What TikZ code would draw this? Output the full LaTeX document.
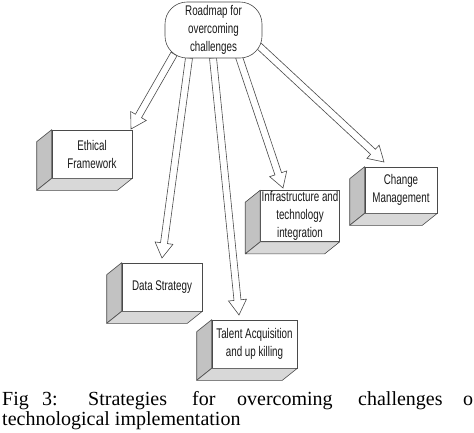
\documentclass[tikz,border=0pt]{standalone}
\usepackage{fontspec}
\setmainfont{Liberation Serif}
\newfontfamily\boxfont[FakeStretch=0.7]{Liberation Sans}
\usetikzlibrary{calc}
\definecolor{edge}{HTML}{4A4A4A}
\definecolor{sideface}{HTML}{C2C2C2}
\definecolor{botface}{HTML}{D8D8D8}
\tikzset{
  front/.style={draw=edge, line width=0.6pt, fill=white, align=center, inner sep=1pt,
    font=\boxfont\fontsize{14}{18}\selectfont, text=black!90},
  sideface/.style={draw=edge, line width=0.6pt, fill=sideface, line join=round},
  botface/.style={draw=edge, line width=0.6pt, fill=botface, line join=round},
  blockarrow/.style={draw=edge, line width=0.6pt, fill=white, line join=miter},
  capword/.style={font=\fontsize{20}{20}\selectfont, anchor=base west, inner sep=0pt}
}
\newcommand\boxthreed[1]{%
  \draw[sideface] (#1.north west) -- ++(-15,12) -- ($(#1.south west)+(-15,12)$) -- (#1.south west) -- cycle;
  \draw[botface] (#1.south west) -- ++(-15,12) -- ($(#1.south east)+(-15,12)$) -- (#1.south east) -- cycle;
}
\newcommand\blockarr[2]{%
  \coordinate (#1#2h) at ($(#2)!15pt!(#1)$);
  \draw[blockarrow] ($(#1)!3.5pt!90:(#2)$) -- ($(#1#2h)!3.5pt!90:(#2)$) -- ($(#1#2h)!9pt!90:(#2)$)
    -- (#2) -- ($(#1#2h)!9pt!-90:(#2)$) -- ($(#1#2h)!3.5pt!-90:(#2)$) -- ($(#1)!3.5pt!-90:(#2)$) -- cycle;
}
\begin{document}
\begin{tikzpicture}[x=1pt, y=-1pt]
\useasboundingbox (0,0) rectangle (474,432);
\clip (0,0) rectangle (474,432);
\fill[white] (0,0) rectangle (474,432);

% arrow end points
\coordinate (s1) at (174,54);  \coordinate (t1) at (131,129);
\coordinate (s2) at (189,58);  \coordinate (t2) at (162,258);
\coordinate (s3) at (213,58);  \coordinate (t3) at (239,315);
\coordinate (s4) at (239,57);  \coordinate (t4) at (283,188);
\coordinate (s5) at (258,45);  \coordinate (t5) at (384,162);

\blockarr{s1}{t1}
\blockarr{s2}{t2}
\blockarr{s3}{t3}
\blockarr{s4}{t4}
\blockarr{s5}{t5}

% top node
\node[front, rounded corners=22pt, minimum width=97pt, minimum height=56pt] (road) at (213.5,30)
  {Roadmap for\\overcoming\\challenges};

% boxes
\node[front, minimum width=80pt, minimum height=48pt] (ef) at (92,154) {Ethical\\Framework};
\boxthreed{ef}
\node[front, minimum width=80pt, minimum height=48pt] (ds) at (162,287) {Data Strategy};
\boxthreed{ds}
\node[front, minimum width=85pt, minimum height=48pt] (ta) at (254.5,344) {Talent Acquisition\\and up killing};
\boxthreed{ta}
\node[front, minimum width=78pt, minimum height=48pt] (it) at (300,216) {Infrastructure and\\technology\\integration};
\boxthreed{it}
\node[front, minimum width=72pt, minimum height=46pt] (cm) at (401,190) {Change\\Management};
\boxthreed{cm}

% caption
\node[capword] (c1) at (2,405) {Fig};
\node[capword] (c2) at (42,405) {3:};
\node[capword] (c3) at (88,405) {Strategies};
\node[capword] (c4) at (192,405) {for};
\node[capword] (c5) at (237,405) {overcoming};
\node[capword] (c6) at (358,405) {challenges};
\node[capword] (c7) at (463,405) {o};
\node[capword] (c8) at (2,425) {technological implementation};
\end{tikzpicture}
\end{document}
